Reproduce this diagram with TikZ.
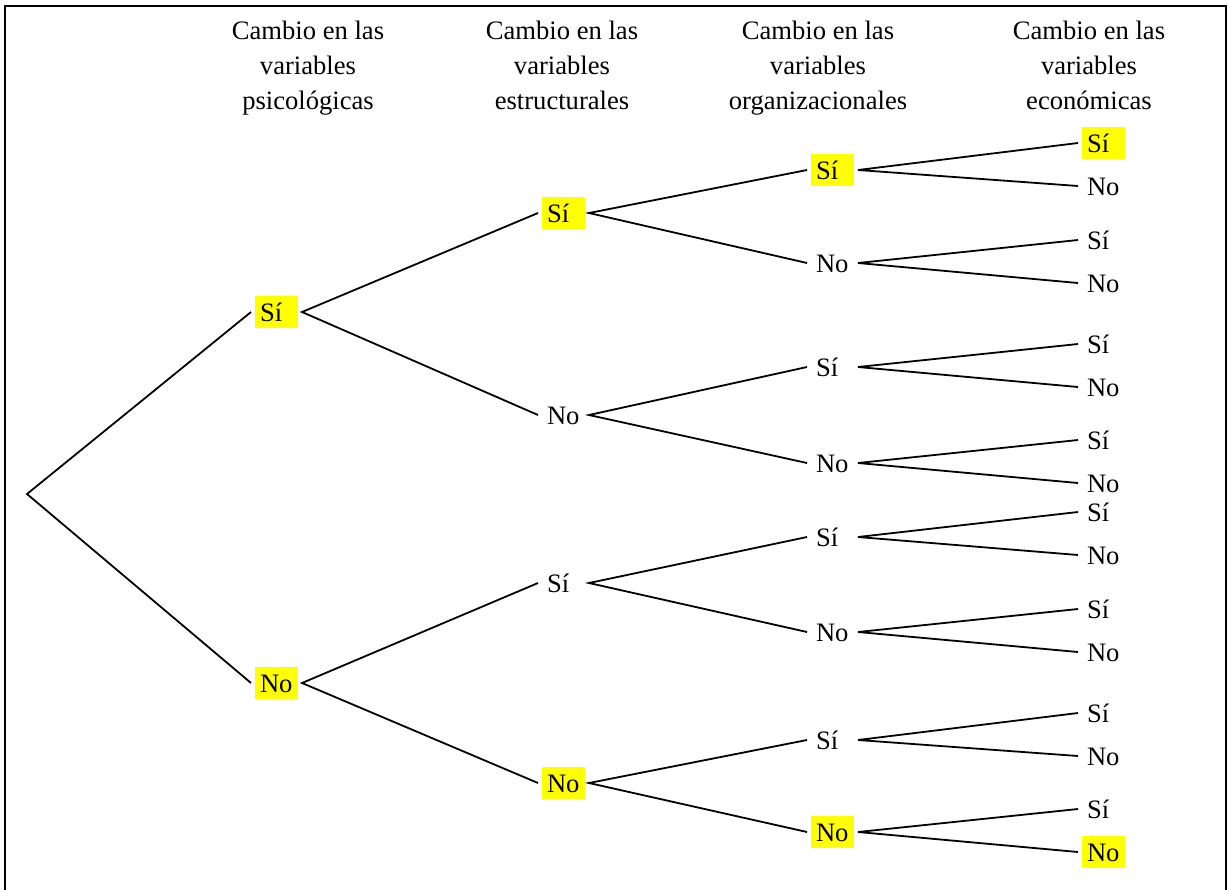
\documentclass[tikz,border=0pt]{standalone}
\usepackage{fontspec}
\setmainfont{Liberation Serif}
\definecolor{Ink}{HTML}{000000}
\definecolor{Mark}{HTML}{FFFF00}
\tikzset{
  answer/.style={text width=16.5pt,align=left,inner xsep=2.5pt,inner ysep=2pt,outer xsep=2pt,outer ysep=0pt,text height=10.5pt,text depth=1.5pt,font=\fontsize{13.3}{16}\selectfont,text=Ink},
  marked/.style={answer,fill=Mark},
  header/.style={align=center,inner sep=0pt,anchor=north,font=\fontsize{13.3}{17.5}\selectfont,text=Ink},
  branch/.style={draw=Ink,line width=0.9pt},
  frame/.style={draw=Ink,line width=1.1pt}
}

\begin{document}
\begin{tikzpicture}[x=0.5pt,y=-0.5pt]
  \useasboundingbox (0,0) rectangle (1228,890);
  \draw[frame] (5,6) rectangle (1226,894);
  % headers
  \node[header] (hpsi) at (308,21) {Cambio en las\\variables\\psicológicas};
  \node[header] (hest) at (562,21) {Cambio en las\\variables\\estructurales};
  \node[header] (horg) at (818,21) {Cambio en las\\variables\\organizacionales};
  \node[header] (heco) at (1089,21) {Cambio en las\\variables\\económicas};
  % root and first level
  \coordinate (root) at (27,494);
  \node[marked] (s) at (276.5,312) {Sí};
  \node[marked] (n) at (276.5,683) {No};
  % second level
  \node[marked] (ss) at (563.5,213) {Sí};
  \node[answer] (sn) at (563.5,415) {No};
  \node[answer] (ns) at (563.5,583) {Sí};
  \node[marked] (nn) at (563.5,783) {No};
  % third level
  \node[marked] (sss) at (832.5,170) {Sí};
  \node[answer] (ssn) at (832.5,263) {No};
  \node[answer] (sns) at (832.5,367) {Sí};
  \node[answer] (snn) at (832.5,463) {No};
  \node[answer] (nss) at (832.5,537) {Sí};
  \node[answer] (nsn) at (832.5,632) {No};
  \node[answer] (nns) at (832.5,740) {Sí};
  \node[marked] (nnn) at (832.5,832) {No};
  % fourth level
  \node[marked] (ssss) at (1103.5,143) {Sí};
  \node[answer] (sssn) at (1103.5,186) {No};
  \node[answer] (ssns) at (1103.5,240) {Sí};
  \node[answer] (ssnn) at (1103.5,283) {No};
  \node[answer] (snss) at (1103.5,344) {Sí};
  \node[answer] (snsn) at (1103.5,387) {No};
  \node[answer] (snns) at (1103.5,440) {Sí};
  \node[answer] (snnn) at (1103.5,483) {No};
  \node[answer] (nsss) at (1103.5,512) {Sí};
  \node[answer] (nssn) at (1103.5,555) {No};
  \node[answer] (nsns) at (1103.5,609) {Sí};
  \node[answer] (nsnn) at (1103.5,652) {No};
  \node[answer] (nnss) at (1103.5,713) {Sí};
  \node[answer] (nnsn) at (1103.5,756) {No};
  \node[answer] (nnns) at (1103.5,809) {Sí};
  \node[marked] (nnnn) at (1103.5,852) {No};
  % branches
  \draw[branch] (s.west) -- (root) -- (n.west);
  \draw[branch] (ss.west) -- (s.east) -- (sn.west);
  \draw[branch] (ns.west) -- (n.east) -- (nn.west);
  \draw[branch] (sss.west) -- (ss.east) -- (ssn.west);
  \draw[branch] (sns.west) -- (sn.east) -- (snn.west);
  \draw[branch] (nss.west) -- (ns.east) -- (nsn.west);
  \draw[branch] (nns.west) -- (nn.east) -- (nnn.west);
  \draw[branch] (ssss.west) -- (sss.east) -- (sssn.west);
  \draw[branch] (ssns.west) -- (ssn.east) -- (ssnn.west);
  \draw[branch] (snss.west) -- (sns.east) -- (snsn.west);
  \draw[branch] (snns.west) -- (snn.east) -- (snnn.west);
  \draw[branch] (nsss.west) -- (nss.east) -- (nssn.west);
  \draw[branch] (nsns.west) -- (nsn.east) -- (nsnn.west);
  \draw[branch] (nnss.west) -- (nns.east) -- (nnsn.west);
  \draw[branch] (nnns.west) -- (nnn.east) -- (nnnn.west);
\end{tikzpicture}
\end{document}
